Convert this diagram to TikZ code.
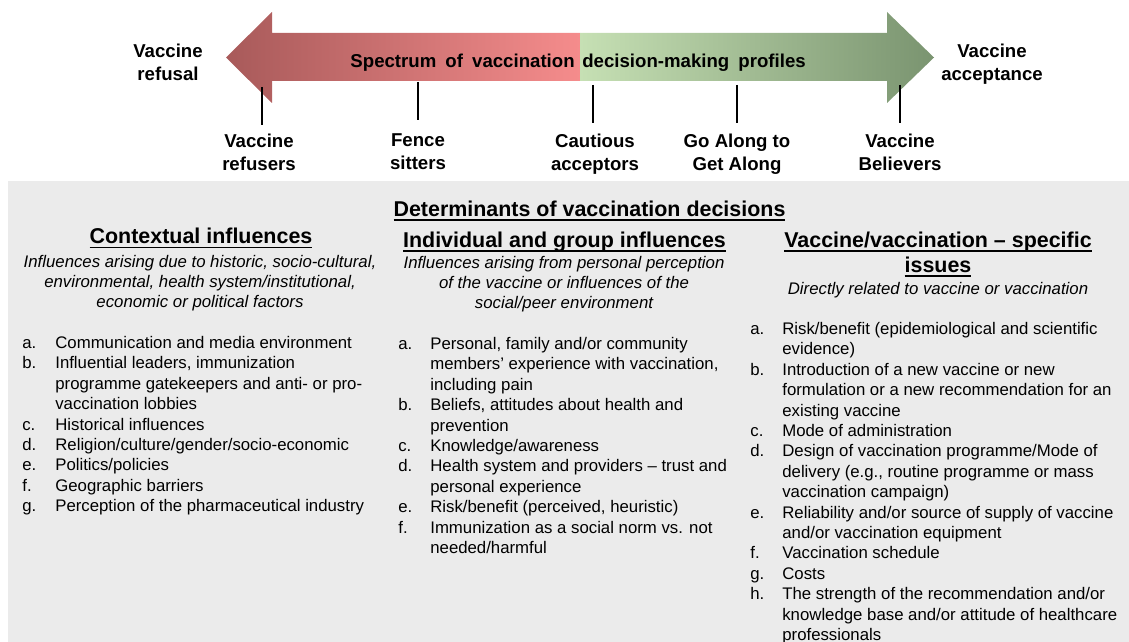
\documentclass[tikz,border=0pt]{standalone}
\usepackage{fontspec}
\setmainfont{Liberation Sans}
\usetikzlibrary{positioning}
\definecolor{refusedark}{HTML}{A85A5A}
\definecolor{refuselight}{HTML}{F58C8C}
\definecolor{acceptlight}{HTML}{C6E0B4}
\definecolor{acceptdark}{HTML}{7A9470}
\definecolor{panelgray}{HTML}{EBEBEB}

% underline sitting just under the baseline (cuts through descenders)
\newsavebox{\hdrbox}
\newcommand{\hdrline}[1]{\sbox{\hdrbox}{#1}\rlap{\rule[-2.6pt]{\wd\hdrbox}{1.1pt}}\usebox{\hdrbox}}
% wide word gap for the arrow caption
\newcommand{\wsp}{\hspace{0.49em}}

\begin{document}
\begin{tikzpicture}[x=0.02cm, y=-0.02cm,
  lbl/.style={font=\fontsize{10.6}{13}\selectfont\bfseries, align=center, anchor=north, inner sep=0pt},
  hdr/.style={font=\fontsize{12.2}{14.2}\selectfont\bfseries, align=center, anchor=north, inner sep=0pt},
  sub/.style={font=\fontsize{9.55}{11.34}\selectfont\itshape, align=center, anchor=north, inner sep=0pt},
  lst/.style={font=\fontsize{9.55}{11.62}\selectfont, anchor=north west, inner sep=0pt},
  tick/.style={line width=1.5pt}]

\useasboundingbox (0,0) rectangle (1129,642);

% Spectrum arrow (red half to the left, green half to the right)
\shade[left color=refusedark, right color=refuselight]
  (272,12) -- (226,57.5) -- (272,103) -- (272,81) -- (580,81) -- (580,33) -- (272,33) -- cycle;
\shade[left color=acceptlight, right color=acceptdark]
  (580,33) -- (887,33) -- (887,12) -- (934,57.5) -- (887,103) -- (887,81) -- (580,81) -- cycle;

\node[lbl, anchor=north east] (spec1) at (575,53.5) {Spectrum\wsp of\wsp vaccination};
\node[lbl, anchor=north west] (spec2) at (582,53.5) {decision-making\wsp profiles};

\node[lbl] (refusal) at (168,43.6) {Vaccine\\refusal};
\node[lbl] (acceptance) at (992,43.6) {Vaccine\\acceptance};

% Profile ticks and labels
\foreach \x/\ytop in {262/87, 418/82, 593/85, 737/85, 900/85} {
  \draw[tick] (\x,\ytop) -- (\x,\ytop+38);
}
\foreach \x/\nm/\txt in {259/refusers/{Vaccine\\refusers}, 418/sitters/{Fence\\sitters},
    595/cautious/{Cautious\\acceptors}, 737/goalong/{Go Along to\\Get Along},
    900/believers/{Vaccine\\Believers}} {
  \node[lbl] (\nm) at (\x,133.6) {\txt};
}

% Determinants panel
\fill[panelgray] (8,181) rectangle (1129,642);

\node[hdr] (determinants) at (589.5,200.6) {\hdrline{Determinants of vaccination decisions}};

% Contextual influences
\node[hdr] (ctxhead) at (201,228) {\hdrline{Contextual influences}};
\node[sub] (ctxsub) at (200,254.9) {Influences arising due to historic, socio-cultural,\\
  environmental, health system/institutional,\\economic or political factors};
\node[lst] (ctxlist) at (22,333.7) {\begin{tabular}{@{}p{0.66cm}@{}l@{}}
  a. & Communication and media environment\\
  b. & Influential leaders, immunization\\
     & programme gatekeepers and anti- or pro-\\
     & vaccination lobbies\\
  c. & Historical influences\\
  d. & Religion/culture/gender/socio-economic\\
  e. & Politics/policies\\
  f. & Geographic barriers\\
  g. & Perception of the pharmaceutical industry
\end{tabular}};

% Individual and group influences
\node[hdr] (indhead) at (564.5,231.3) {\hdrline{Individual and group influences}};
\node[sub] (indsub) at (564,255.9) {Influences arising from personal perception\\
  of the vaccine or influences of the\\social/peer environment};
\node[lst] (indlist) at (398,334.7) {\begin{tabular}{@{}p{0.64cm}@{}l@{}}
  a. & Personal, family and/or community\\
     & members' experience with vaccination,\\
     & including pain\\
  b. & Beliefs, attitudes about health and\\
     & prevention\\
  c. & Knowledge/awareness\\
  d. & Health system and providers -- trust and\\
     & personal experience\\
  e. & Risk/benefit (perceived, heuristic)\\
  f. & Immunization as a social norm vs. not\\
     & needed/harmful
\end{tabular}};

% Vaccine/vaccination-specific issues
\node[hdr] (vachead) at (938,231.3) {\hdrline{Vaccine/vaccination -- specific}\\\hdrline{issues}};
\node[sub] (vacsub) at (938,281.9) {Directly related to vaccine or vaccination};
\node[lst] (vaclist) at (750,319.7) {\begin{tabular}{@{}p{0.64cm}@{}l@{}}
  a. & Risk/benefit (epidemiological and scientific\\
     & evidence)\\
  b. & Introduction of a new vaccine or new\\
     & formulation or a new recommendation for an\\
     & existing vaccine\\
  c. & Mode of administration\\
  d. & Design of vaccination programme/Mode of\\
     & delivery (e.g., routine programme or mass\\
     & vaccination campaign)\\
  e. & Reliability and/or source of supply of vaccine\\
     & and/or vaccination equipment\\
  f. & Vaccination schedule\\
  g. & Costs\\
  h. & The strength of the recommendation and/or\\
     & knowledge base and/or attitude of healthcare\\
     & professionals
\end{tabular}};

\end{tikzpicture}
\end{document}
